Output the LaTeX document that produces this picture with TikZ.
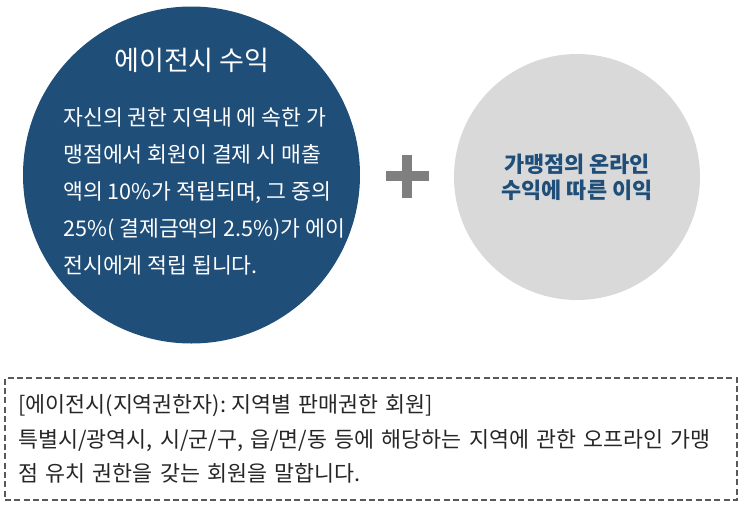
\documentclass[tikz,border=0pt]{standalone}
\usepackage{fontspec}
\setmainfont{Noto Sans CJK KR}
\usetikzlibrary{positioning,calc}
\definecolor{agency}{HTML}{1F4E79}
\definecolor{online}{HTML}{D9D9D9}
\definecolor{plusgray}{HTML}{7F7F7F}
\definecolor{ink}{HTML}{262626}
\definecolor{frame}{HTML}{595959}
\tikzset{
  every node/.style={text=ink,inner sep=0pt},
  agencycircle/.style={circle,fill=agency,minimum size=252.75pt},
  onlinecircle/.style={circle,fill=online,minimum size=184.5pt},
  titletext/.style={text=white,font=\fontsize{20.3}{24}\selectfont},
  bodytext/.style={text=white,align=left,font=\fontsize{16.2}{27.75}\selectfont},
  onlinetext/.style={text=agency,align=center,font=\fontsize{16.4}{19.5}\selectfont\bfseries},
  plusbar/.style={fill=plusgray},
  notebox/.style={draw=frame,line width=1.1pt,dash pattern=on 4.5pt off 2.5pt,
    minimum width=549pt,minimum height=91.5pt,align=left,text width=529pt,
    inner xsep=10pt,font=\fontsize{16.3}{25.9}\selectfont},
}
\begin{document}
\begin{tikzpicture}[x=0.75pt,y=-0.75pt]
\useasboundingbox (0,0) rectangle (744,511);

% left circle
\node[agencycircle] (agency) at (191.5,175) {};
\node[titletext] (title) at (192,60) {에이전시 수익};
\node[bodytext,anchor=west] (body) at (63,191.5) {자신의 권한 지역내 에 속한 가\\
맹점에서 회원이 결제 시 매출\\
액의 10\%가 적립되며, 그 중의\\
25\%( 결제금액의 2.5\%)가 에이\\
전시에게 적립 됩니다.};

% plus
\coordinate (plus) at (407,176);
\fill[plusbar] ($(plus)+(-21.5,-5)$) rectangle ($(plus)+(21.5,5)$);
\fill[plusbar] ($(plus)+(-5,-21.5)$) rectangle ($(plus)+(5,21.5)$);

% right circle
\node[onlinecircle] (online) at (577,177) {};
\node[onlinetext] (onlinelabel) at (online) {가맹점의 온라인\\수익에 따른 이익};

% definition box
\node[notebox] (note) at (371,439) {[에이전시(지역권한자):\kern-0.1em\ 지역별 판매권한 회원]\\
특별시/광역시, 시/군/구, 읍/면/동 등에 해당하는 지역에 관한 오프라인 가맹\\
점 유치 권한을 갖는 회원을 말합니다.};

\end{tikzpicture}
\end{document}
